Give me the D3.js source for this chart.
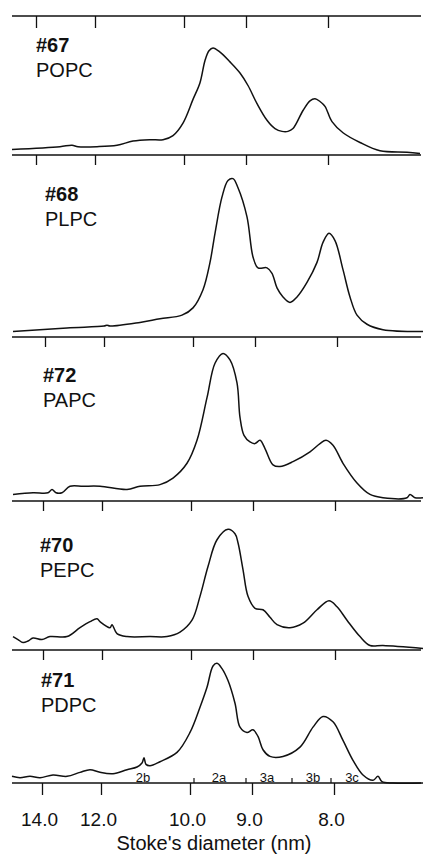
<!DOCTYPE html>
<html>
<head>
<meta charset="utf-8">
<script src="https://cdn.jsdelivr.net/npm/d3@7"></script>
<style>
  html, body { margin: 0; padding: 0; background: #fff; }
  svg text { font-family: "Liberation Sans", Arial, Helvetica, sans-serif; fill: #111; }
</style>
</head>
<body>
<svg id="chart" width="424" height="854"></svg>
<script>
// sample ids and lipid names, top to bottom
let sampleIds = ["#67", "#68", "#72", "#70", "#71"];
let lipidNames = ["POPC", "PLPC", "PAPC", "PEPC", "PDPC"];

// densitometric traces: [migration distance (mm), relative absorbance]
let tracePOPC = [[0.0,0.04],[4.8,0.06],[6.0,0.07],[6.6,0.06],[8.5,0.06],[10.5,0.07],[12.1,0.10],[13.8,0.11],[15.1,0.11],[16.1,0.14],[17.1,0.23],[18.1,0.40],[18.8,0.52],[19.3,0.68],[19.7,0.75],[20.1,0.77],[20.8,0.74],[21.8,0.67],[22.8,0.59],[23.6,0.50],[24.5,0.37],[25.5,0.25],[26.3,0.19],[27.0,0.17],[27.6,0.17],[28.1,0.19],[29.1,0.32],[29.8,0.39],[30.3,0.405],[30.8,0.385],[31.3,0.35],[32.0,0.24],[33.1,0.16],[34.8,0.09],[36.8,0.03],[39.5,0.02],[40.8,0.01]];
let tracePLPC = [[0.1,0.03],[5.5,0.05],[9.2,0.06],[9.5,0.065],[9.8,0.06],[12.8,0.08],[14.8,0.10],[17.0,0.12],[18.1,0.16],[19.1,0.26],[19.8,0.41],[20.3,0.57],[21.0,0.77],[21.6,0.86],[22.1,0.87],[22.6,0.82],[23.5,0.66],[24.1,0.44],[24.6,0.38],[25.5,0.38],[26.0,0.35],[26.5,0.27],[27.1,0.22],[27.8,0.19],[28.5,0.22],[29.5,0.30],[30.5,0.41],[31.1,0.52],[31.7,0.57],[32.3,0.53],[33.1,0.37],[33.8,0.22],[34.5,0.12],[35.5,0.07],[37.1,0.04],[41.1,0.03]];
let tracePAPC = [[0.1,0.04],[2.1,0.05],[3.6,0.05],[4.0,0.07],[4.4,0.05],[5.0,0.05],[5.8,0.09],[7.1,0.09],[8.8,0.09],[11.5,0.07],[12.8,0.09],[14.8,0.10],[16.1,0.14],[17.5,0.23],[18.5,0.37],[19.5,0.63],[20.3,0.84],[21.1,0.90],[21.8,0.86],[22.5,0.72],[22.8,0.51],[23.2,0.40],[23.8,0.36],[24.3,0.35],[24.8,0.37],[25.3,0.32],[26.1,0.22],[26.8,0.21],[28.1,0.24],[29.8,0.30],[30.8,0.35],[31.4,0.37],[32.1,0.34],[33.1,0.23],[34.5,0.11],[35.8,0.04],[37.1,0.02],[39.5,0.02],[39.8,0.04],[40.3,0.02],[41.1,0.02]];
let tracePEPC = [[0.1,0.09],[0.6,0.07],[1.1,0.05],[1.6,0.06],[2.1,0.08],[3.0,0.07],[3.8,0.09],[5.5,0.09],[6.8,0.15],[7.8,0.19],[8.5,0.21],[8.8,0.19],[9.8,0.15],[10.0,0.17],[10.5,0.11],[11.5,0.09],[13.8,0.09],[15.5,0.09],[16.8,0.12],[18.0,0.20],[18.8,0.36],[19.6,0.56],[20.5,0.74],[21.6,0.81],[22.3,0.78],[22.6,0.72],[23.1,0.54],[23.6,0.36],[24.3,0.28],[25.1,0.27],[25.8,0.22],[26.5,0.17],[27.8,0.15],[29.1,0.18],[30.5,0.27],[31.7,0.33],[32.5,0.29],[33.5,0.20],[34.8,0.09],[35.8,0.03],[37.1,0.03],[41.1,0.01]];
let tracePDPC = [[0.0,0.05],[0.8,0.04],[1.8,0.05],[2.8,0.04],[4.1,0.06],[5.5,0.05],[6.8,0.08],[7.8,0.10],[8.8,0.08],[10.1,0.07],[11.5,0.10],[12.5,0.12],[13.0,0.15],[13.2,0.19],[13.4,0.14],[13.8,0.13],[14.8,0.16],[16.5,0.23],[17.8,0.38],[18.8,0.57],[19.5,0.72],[20.1,0.88],[20.5,0.90],[21.0,0.86],[21.6,0.77],[22.3,0.60],[22.8,0.42],[23.5,0.38],[24.1,0.40],[24.6,0.35],[25.1,0.25],[25.8,0.20],[27.1,0.20],[28.8,0.27],[30.1,0.42],[31.1,0.50],[32.1,0.46],[33.1,0.32],[34.1,0.17],[35.1,0.06],[36.1,0.02],[36.6,0.05],[37.0,0.01],[38.1,0.00],[41.1,0.00]];
let traces = [tracePOPC, tracePLPC, tracePAPC, tracePEPC, tracePDPC];

// calibration: Stokes diameter (nm) vs migration distance (mm)
let diameterTicks = [14.0, 12.0, 10.0, 9.0, 8.0];
let tickMigration = [3.0, 8.9, 17.8, 24.0, 32.2];

// HDL subclass bands
let bandNames = ["2b", "2a", "3a", "3b", "3c"];
let bandCenters = [13.1, 20.7, 25.5, 30.1, 34.0];
let bandLimits = [18.2, 23.4, 28.0, 31.9];

// layout
let frameY = [16, 155, 337, 501, 650, 783];
let frameShift = [-6, -6, 3, 1, 1, 0];
let labelX = [36, 45, 43, 40, 41];
let labelY = [52, 201, 382, 552, 687];
let font = '"Liberation Sans", Arial, Helvetica, sans-serif';

let svg = d3.select("#chart");

let x = d3.scaleLinear().domain([0, 41.1]).range([12, 423]);
let xd = d3.scaleLinear()
  .domain(diameterTicks)
  .range(tickMigration.map(m => x(m)));

// frame lines with ticks
frameY.forEach((fy, i) => {
  let g = svg.append("g")
    .attr("transform", `translate(${frameShift[i]}, ${fy})`);

  g.append("line")
    .attr("x1", 12 - frameShift[i])
    .attr("x2", 421 - frameShift[i])
    .attr("stroke", "#111")
    .attr("stroke-width", 1.6);

  let axis = d3.axisBottom(xd)
    .tickValues(diameterTicks)
    .tickSize(i === 0 || i === frameY.length - 1 ? 12 : 10)
    .tickSizeOuter(0)
    .tickFormat(i === frameY.length - 1 ? d3.format(".1f") : "");

  g.call(axis);
  g.select(".domain").remove();
  g.selectAll(".tick line").attr("stroke", "#111").attr("stroke-width", 1.3);
  g.selectAll(".tick text")
    .attr("y", 43)
    .attr("dy", 0)
    .attr("dx", -3)
    .style("font-family", font)
    .style("font-size", "19px")
    .attr("fill", "#111");
});

// traces
let line = d3.line().curve(d3.curveCatmullRom.alpha(0.5));
traces.forEach((tr, i) => {
  let y = d3.scaleLinear().domain([0, 1]).range([frameY[i + 1], frameY[i]]);
  line.x(d => x(d[0])).y(d => y(d[1]));
  svg.append("path")
    .datum(tr)
    .attr("d", line)
    .attr("fill", "none")
    .attr("stroke", "#111")
    .attr("stroke-width", 1.5)
    .attr("stroke-linejoin", "round");

  svg.append("text")
    .attr("x", labelX[i])
    .attr("y", labelY[i])
    .style("font-size", "20px")
    .style("font-weight", "bold")
    .text(sampleIds[i]);
  svg.append("text")
    .attr("x", labelX[i])
    .attr("y", labelY[i] + 25)
    .style("font-size", "20px")
    .text(lipidNames[i]);
});

// band labels on bottom panel
let axisY = frameY[frameY.length - 1];
svg.selectAll(".band-label")
  .data(bandNames)
  .enter()
  .append("text")
  .attr("class", "band-label")
  .attr("x", (d, i) => x(bandCenters[i]))
  .attr("y", axisY - 1)
  .attr("text-anchor", "middle")
  .style("font-size", "13px")
  .text(d => d);

svg.selectAll(".band-limit")
  .data(bandLimits)
  .enter()
  .append("line")
  .attr("class", "band-limit")
  .attr("x1", d => x(d))
  .attr("x2", d => x(d))
  .attr("y1", axisY - 5)
  .attr("y2", axisY)
  .attr("stroke", "#111")
  .attr("stroke-width", 1.2);

// axis title
svg.append("text")
  .attr("x", 214)
  .attr("y", 850)
  .attr("text-anchor", "middle")
  .style("font-size", "20px")
  .text("Stoke's diameter (nm)");
</script>
</body>
</html>
